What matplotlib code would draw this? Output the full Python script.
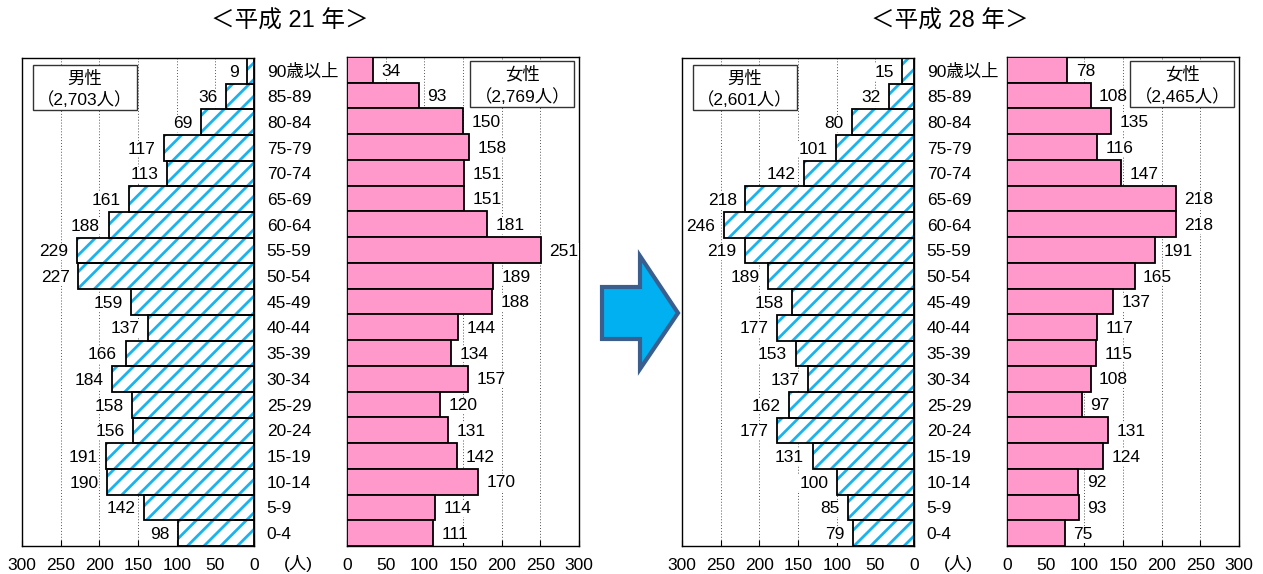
import matplotlib
matplotlib.use("Agg")
import matplotlib.pyplot as plt
from matplotlib.patches import Rectangle, Polygon
import numpy as np

plt.rcParams['font.family'] = ['Liberation Sans', 'Noto Sans CJK JP']
plt.rcParams['hatch.linewidth'] = 2.0
plt.rcParams['hatch.color'] = '#19b4ee'

# age groups, top to bottom as shown
ages = ["90歳以上", "85-89", "80-84", "75-79", "70-74", "65-69", "60-64", "55-59",
        "50-54", "45-49", "40-44", "35-39", "30-34", "25-29", "20-24", "15-19",
        "10-14", "5-9", "0-4"]

male_h21 = [9, 36, 69, 117, 113, 161, 188, 229, 227, 159, 137, 166, 184, 158, 156, 191, 190, 142, 98]
female_h21 = [34, 93, 150, 158, 151, 151, 181, 251, 189, 188, 144, 134, 157, 120, 131, 142, 170, 114, 111]
male_h28 = [15, 32, 80, 101, 142, 218, 246, 219, 189, 158, 177, 153, 137, 162, 177, 131, 100, 85, 79]
female_h28 = [78, 108, 135, 116, 147, 218, 218, 191, 165, 137, 117, 115, 108, 97, 131, 124, 92, 93, 75]

titles = ["＜平成 21 年＞", "＜平成 28 年＞"]
male_total = ["（2,703人）", "（2,601人）"]
female_total = ["（2,769人）", "（2,465人）"]

W, H = 1263, 574
fig = plt.figure(figsize=(W / 100, H / 100), dpi=100)

ticks = [0, 50, 100, 150, 200, 250, 300]
y = np.arange(len(ages))
FS = 12.5
label_bg = dict(facecolor='white', edgecolor='none', pad=0.5)


def px(x0, y0, x1, y1):
    return [x0 / W, 1 - y1 / H, (x1 - x0) / W, (y1 - y0) / H]


def style_axis(ax):
    ax.set_ylim(len(ages) - 0.5, -0.5)
    ax.set_xticks(ticks)
    ax.set_yticks([])
    ax.tick_params(axis='x', direction='in', length=4, labelsize=FS, pad=9)
    for t in [50, 100, 150, 200, 250]:
        ax.axvline(t, color='#555555', lw=0.7, ls=(0, (1, 2)), zorder=0)
    for s in ax.spines.values():
        s.set_linewidth(1.0)


panels = [(22, male_h21, female_h21), (682, male_h28, female_h28)]
for i, (x0, males, females) in enumerate(panels):
    axm = fig.add_axes(px(x0, 58, x0 + 232, 546))
    axf = fig.add_axes(px(x0 + 325, 57, x0 + 557, 546))

    # male: hatched bars
    axm.barh(y, males, height=1.0, color='white', hatch='//', edgecolor='#19b4ee',
             linewidth=0, zorder=2)
    axm.barh(y, males, height=1.0, color='none', edgecolor='black', linewidth=1.3, zorder=3)
    axm.set_xlim(300, 0)
    style_axis(axm)
    for yy, v in zip(y, males):
        axm.text(v + 11, yy + 0.05, str(v), ha='right', va='center', fontsize=FS,
                 zorder=4, bbox=label_bg)

    # female: pink bars
    axf.barh(y, females, height=1.0, color='#ff99cc', edgecolor='black', linewidth=1.3, zorder=3)
    axf.set_xlim(0, 300)
    style_axis(axf)
    for yy, v in zip(y, females):
        axf.text(v + 11, yy + 0.05, str(v), ha='left', va='center', fontsize=FS,
                 zorder=4, bbox=label_bg)

    # age labels between axes
    for yy, a in zip(y, ages):
        axm.text(1.055, yy + 0.05, a, transform=axm.get_yaxis_transform(), ha='left',
                 va='center', fontsize=FS)

    # legend boxes
    axm.add_patch(Rectangle((0.047, 0.893), 0.449, 0.093, transform=axm.transAxes,
                            facecolor='white', edgecolor='#333333', lw=1.0, zorder=5))
    axm.text(0.27, 0.958, "男性", transform=axm.transAxes, ha='center', va='center',
             fontsize=12.5, zorder=6)
    axm.text(0.27, 0.914, male_total[i], transform=axm.transAxes, ha='center', va='center',
             fontsize=12.5, zorder=6)
    axf.add_patch(Rectangle((0.532, 0.898), 0.446, 0.094, transform=axf.transAxes,
                            facecolor='white', edgecolor='#333333', lw=1.0, zorder=5))
    axf.text(0.755, 0.964, "女性", transform=axf.transAxes, ha='center', va='center',
             fontsize=12.5, zorder=6)
    axf.text(0.755, 0.919, female_total[i], transform=axf.transAxes, ha='center', va='center',
             fontsize=12.5, zorder=6)

    fig.text((x0 + 268) / W, 1 - 22 / H, titles[i], ha='center', va='center', fontsize=17)
    fig.text((x0 + 276) / W, 1 - 563 / H, "(人)", ha='center', va='center', fontsize=FS)

# arrow between the two years
arrow_ax = fig.add_axes([0, 0, 1, 1])
arrow_ax.set_xlim(0, W)
arrow_ax.set_ylim(H, 0)
arrow_ax.axis('off')
arrow_ax.add_patch(Polygon([(602, 287), (640, 287), (640, 256), (678, 313),
                            (640, 369), (640, 339), (602, 339)], closed=True,
                           facecolor='#00b0f0', edgecolor='#3a5f8f', lw=3))

fig.savefig("out.png", dpi=100)
